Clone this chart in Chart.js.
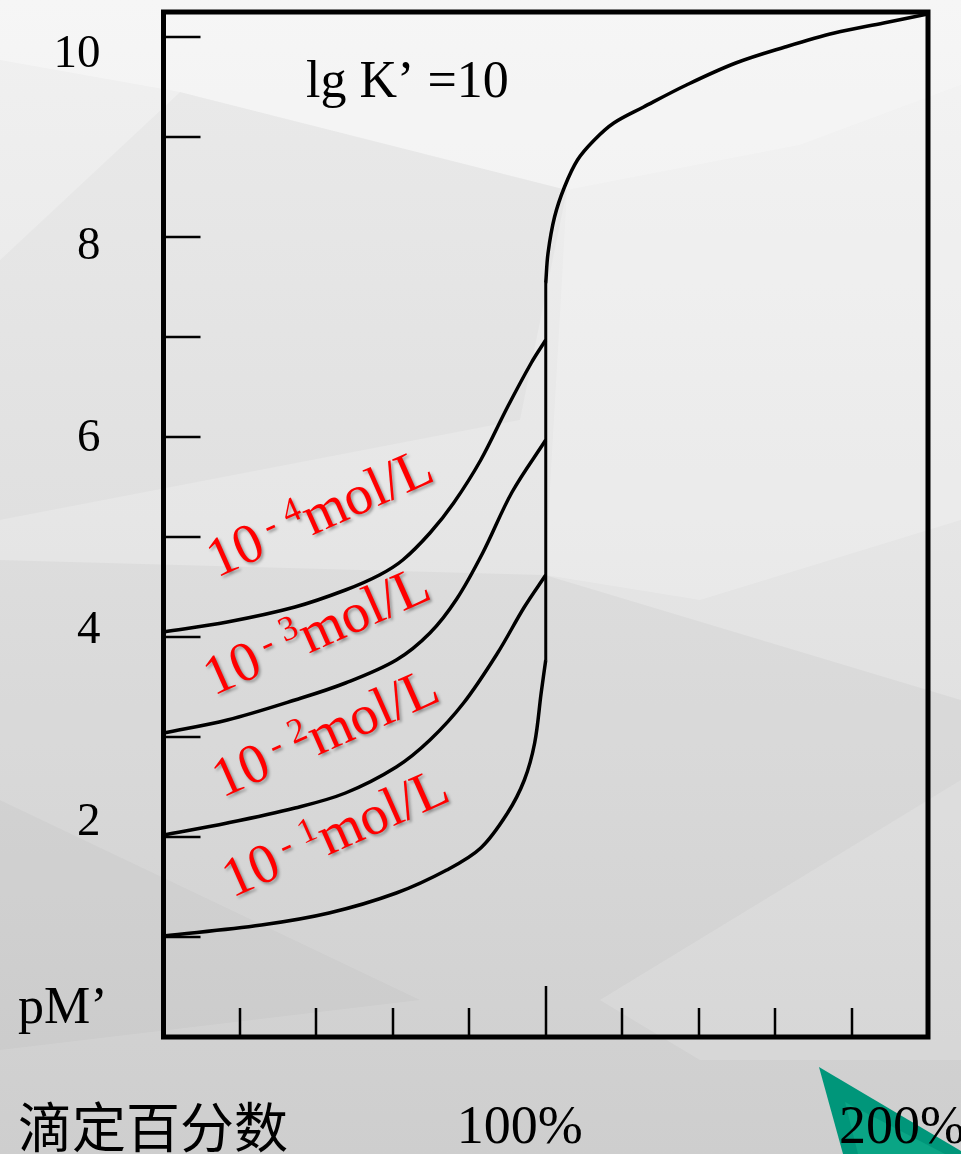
<!DOCTYPE html>
<html>
<head>
<meta charset="utf-8">
<script src="https://cdn.jsdelivr.net/npm/chart.js@4.4.1/dist/chart.umd.min.js"></script>
<style>
  html, body { margin: 0; padding: 0; background: #e2e2e2; }
  canvas { display: block; }
</style>
</head>
<body>
<canvas id="titration" width="961" height="1154"></canvas>
<script>
// 滴定百分数 (%) and pM', one pair of arrays per concentration
const pct1 = [0, 25.6, 43.3, 60.9, 74.1, 83.0, 90.0, 94.4, 97.1, 98.8, 100];
const pM1  = [1.01, 1.12, 1.24, 1.44, 1.67, 1.89, 2.24, 2.57, 2.94, 3.44, 3.77];
const pct2 = [0, 16.7, 34.4, 47.6, 60.9, 69.7, 78.5, 87.4, 94.4, 100];
const pM2  = [2.02, 2.14, 2.29, 2.44, 2.70, 2.97, 3.34, 3.84, 4.30, 4.62];
const pct3 = [0, 16.7, 34.4, 47.6, 60.9, 69.7, 76.7, 83.5, 91.2, 100];
const pM3  = [3.04, 3.17, 3.37, 3.54, 3.77, 4.04, 4.38, 4.84, 5.45, 5.97];
const pct4 = [0, 16.7, 34.4, 47.6, 56.5, 62.6, 69.7, 75.9, 83.0, 90.0, 96.2, 100];
const pM4  = [4.05, 4.15, 4.30, 4.47, 4.62, 4.77, 5.04, 5.34, 5.77, 6.30, 6.74, 6.97];
// jump at the equivalence point and the common branch after it
const jumpPct = [100, 100];
const jumpPM  = [3.77, 7.54];
const excessPct = [100, 100.6, 102.3, 104.9, 108.3, 112.7, 117.8, 125.6, 136.8, 149.7, 162.6, 175.5, 188.4, 200];
const excessPM  = [7.54, 7.84, 8.20, 8.50, 8.77, 8.97, 9.14, 9.30, 9.52, 9.74, 9.90, 10.04, 10.14, 10.23];

const concExponents = ['1', '2', '3', '4'];
const yTickValues = [1, 2, 3, 4, 5, 6, 7, 8, 9, 10];
const yLabelValues = [2, 4, 6, 8, 10];
const xTickValues = [20, 40, 60, 80, 100, 120, 140, 160, 180];
const xLabelValues = [100, 200];

const SERIF = '"Liberation Serif", "Times New Roman", serif';

function toPoints(xs, ys) {
    return xs.map((v, i) => ({ x: v, y: ys[i] }));
}

function curve(xs, ys) {
    return {
        data: toPoints(xs, ys),
        yAxisID: 'y',
        borderColor: '#000',
        borderWidth: 3.5,
        pointRadius: 0,
        fill: false,
        tension: 0.35
    };
}

// where each red label starts (in data units) – layout only
const labelAnchors = {
    '1': [18.0, 1.39],
    '2': [15.4, 2.39],
    '3': [13.1, 3.41],
    '4': [13.9, 4.59]
};

const backgroundPlugin = {
    id: 'slideBackground',
    beforeDraw(chart) {
        const { ctx, width, height } = chart;
        ctx.save();
        const g = ctx.createLinearGradient(0, 0, 0, height);
        g.addColorStop(0, '#f1f1f1');
        g.addColorStop(0.45, '#e6e6e6');
        g.addColorStop(1, '#d5d5d5');
        ctx.fillStyle = g;
        ctx.fillRect(0, 0, width, height);

        const facets = [
            { c: 'rgba(255,255,255,0.35)', p: [[0, 0], [961, 0], [961, 85], [800, 145], [567, 190], [180, 92], [0, 60]] },
            { c: 'rgba(0,0,0,0.025)', p: [[0, 260], [180, 92], [567, 190], [520, 420], [0, 520]] },
            { c: 'rgba(255,255,255,0.2)', p: [[567, 190], [800, 145], [961, 85], [961, 520], [700, 600], [545, 575]] },
            { c: 'rgba(0,0,0,0.03)', p: [[0, 560], [545, 575], [961, 700], [961, 1154], [0, 1154]] },
            { c: 'rgba(0,0,0,0.025)', p: [[0, 800], [420, 1000], [0, 1050]] },
            { c: 'rgba(255,255,255,0.15)', p: [[600, 1000], [961, 780], [961, 1060], [700, 1060]] }
        ];
        facets.forEach(f => {
            ctx.fillStyle = f.c;
            ctx.beginPath();
            f.p.forEach((pt, i) => i ? ctx.lineTo(pt[0], pt[1]) : ctx.moveTo(pt[0], pt[1]));
            ctx.closePath();
            ctx.fill();
        });

        // green slide decoration behind 200%
        ctx.fillStyle = '#00967a';
        ctx.beginPath();
        ctx.moveTo(819, 1067);
        ctx.lineTo(961, 1151);
        ctx.lineTo(961, 1154);
        ctx.lineTo(843, 1154);
        ctx.closePath();
        ctx.fill();
        ctx.fillStyle = '#0aa585';
        ctx.beginPath();
        ctx.moveTo(845, 1102);
        ctx.lineTo(945, 1154);
        ctx.lineTo(858, 1154);
        ctx.closePath();
        ctx.fill();
        ctx.restore();
    }
};

const framePlugin = {
    id: 'frameAndTicks',
    afterDatasetsDraw(chart) {
        const { ctx, chartArea: a, scales: { x, y } } = chart;
        ctx.save();
        ctx.strokeStyle = '#000';
        ctx.lineWidth = 2.5;
        ctx.beginPath();
        yTickValues.forEach(v => {
            const py = Math.round(y.getPixelForValue(v));
            ctx.moveTo(a.left, py);
            ctx.lineTo(a.left + 37, py);
        });
        xTickValues.forEach(v => {
            const px = Math.round(x.getPixelForValue(v));
            const len = v === 100 ? 51 : 29;
            ctx.moveTo(px, a.bottom);
            ctx.lineTo(px, a.bottom - len);
        });
        ctx.stroke();

        ctx.lineWidth = 5;
        ctx.strokeRect(a.left, a.top, a.right - a.left, a.bottom - a.top);
        ctx.restore();
    }
};

const textPlugin = {
    id: 'annotations',
    afterDraw(chart) {
        const { ctx, scales: { x, y } } = chart;
        ctx.save();
        ctx.fillStyle = '#000';
        ctx.textBaseline = 'alphabetic';
        ctx.textAlign = 'left';

        ctx.font = '52px ' + SERIF;
        ctx.fillText('lg K\u2019 =10', x.getPixelForValue(37.3), y.getPixelForValue(9.4));

        ctx.font = '52px ' + SERIF;
        ctx.fillText('pM\u2019', 18, 1023);

        ctx.font = '54px "Noto Sans CJK SC", sans-serif';
        ctx.fillText('滴定百分数', 18, 1148);

        // concentration labels
        const F = 56, S = 35;
        concExponents.forEach(e => {
            const [ax, ay] = labelAnchors[e];
            ctx.save();
            ctx.translate(x.getPixelForValue(ax), y.getPixelForValue(ay));
            ctx.rotate(-24 * Math.PI / 180);
            ctx.fillStyle = '#ff0000';
            ctx.shadowColor = 'rgba(0,0,0,0.35)';
            ctx.shadowOffsetX = 2;
            ctx.shadowOffsetY = 2;
            ctx.shadowBlur = 3;
            let cx = 0;
            ctx.font = F + 'px ' + SERIF;
            ctx.fillText('10', cx, 0);
            cx += ctx.measureText('10').width + 8;
            ctx.font = S + 'px ' + SERIF;
            ctx.fillText('-', cx, -F * 0.28);
            cx += ctx.measureText('-').width + 11;
            ctx.fillText(e, cx, -F * 0.36);
            cx += ctx.measureText(e).width;
            ctx.font = F + 'px ' + SERIF;
            ctx.fillText('mol/L', cx, 0);
            ctx.restore();
        });
        ctx.restore();
    }
};

new Chart(document.getElementById('titration'), {
    type: 'line',
    data: {
        datasets: [
            curve(pct1, pM1),
            curve(pct2, pM2),
            curve(pct3, pM3),
            curve(pct4, pM4),
            Object.assign(curve(jumpPct, jumpPM), { tension: 0, borderWidth: 3 }),
            curve(excessPct, excessPM)
        ]
    },
    options: {
        responsive: false,
        animation: false,
        layout: {
            padding: { left: 0, right: 33, top: 12, bottom: 0 }
        },
        plugins: {
            legend: { display: false },
            tooltip: { enabled: false }
        },
        scales: {
            x: {
                type: 'linear',
                position: 'bottom',
                min: 0,
                max: 200,
                grid: { display: false, drawTicks: false },
                border: { display: false },
                afterBuildTicks: s => { s.ticks = xLabelValues.map(v => ({ value: v })); },
                afterFit: s => { s.height = 117; s.paddingLeft = 0; s.paddingRight = 0; },
                ticks: {
                    autoSkip: false,
                    maxRotation: 0,
                    minRotation: 0,
                    padding: 59,
                    labelOffset: -26,
                    color: '#000',
                    font: { family: SERIF, size: 54 },
                    callback: v => v + '%'
                }
            },
            // data axis: pM' (tick marks are drawn inside the frame)
            y: {
                type: 'linear',
                display: false,
                min: 0,
                max: 10.25
            },
            // the printed numbers sit slightly apart from the tick marks in the figure
            yLabels: {
                type: 'linear',
                position: 'left',
                min: -0.229,
                max: 10.448,
                grid: { display: false, drawTicks: false },
                border: { display: false },
                afterBuildTicks: s => { s.ticks = yLabelValues.map(v => ({ value: v })); },
                afterFit: s => { s.width = 163.5; s.paddingTop = 0; s.paddingBottom = 0; },
                ticks: {
                    autoSkip: false,
                    padding: 63,
                    color: '#000',
                    font: { family: SERIF, size: 47 },
                    callback: v => String(v)
                }
            }
        }
    },
    plugins: [backgroundPlugin, framePlugin, textPlugin]
});
</script>
</body>
</html>
